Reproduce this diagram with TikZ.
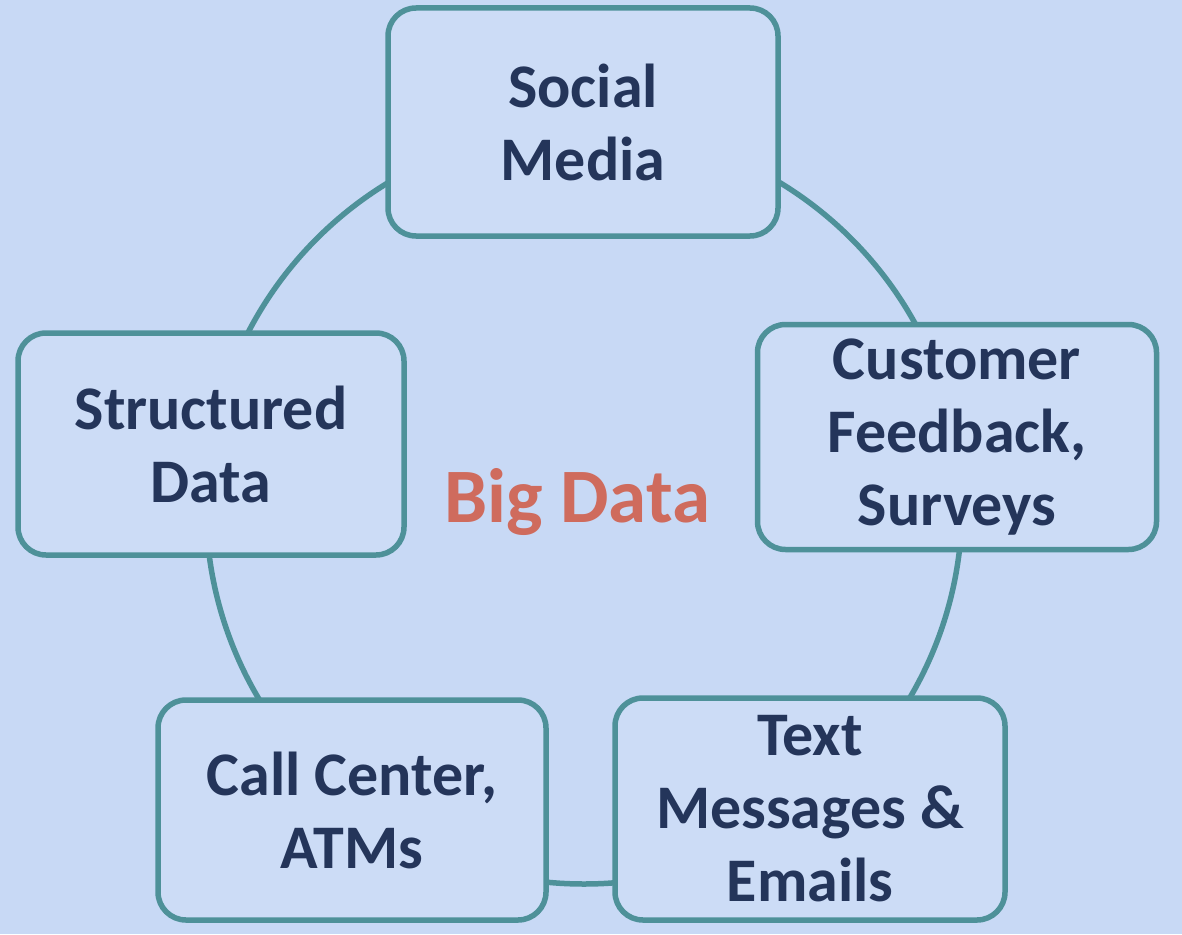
\documentclass[tikz,border=0pt]{standalone}
\usepackage{fontspec}
\setmainfont{Carlito}
\definecolor{bgc}{HTML}{C8D9F5}
\definecolor{boxfill}{HTML}{CCDCF6}
\definecolor{teal}{HTML}{4E9199}
\definecolor{navy}{HTML}{24355A}
\definecolor{salmon}{HTML}{CF6B5D}
\begin{document}
\begin{tikzpicture}[x=1pt,y=-1pt,
  srcbox/.style={draw=teal, line width=5.5pt, fill=boxfill, rounded corners=28pt,
    text=navy, font=\fontsize{62}{73}\selectfont\bfseries, align=center,
    inner sep=0pt, anchor=center},
  ring/.style={draw=teal, line width=5.5pt}]
\fill[bgc] (0,0) rectangle (1182,934);
\useasboundingbox (0,0) rectangle (1182,934);
\coordinate (c) at (584,506);
\draw[ring] (c) circle[radius=378pt];
\node[srcbox, minimum width=390pt, minimum height=228pt] (social) at (583,122) {Social\\Media};
\node[srcbox, minimum width=386pt, minimum height=222pt] (struct) at (211,444) {Structured\\Data};
\node[srcbox, minimum width=399pt, minimum height=225pt] (cust) at (957,437) {Customer\\Feedback,\\Surveys};
\node[srcbox, minimum width=388pt, minimum height=220pt] (call) at (352,810) {Call Center,\\ATMs};
\node[srcbox, minimum width=390pt, minimum height=222pt] (text) at (810,809) {Text\\Messages \&\\Emails};
\node[text=salmon, font=\fontsize{77}{85}\selectfont\bfseries, inner sep=0pt] (big) at (577,502) {Big Data};
\end{tikzpicture}
\end{document}
